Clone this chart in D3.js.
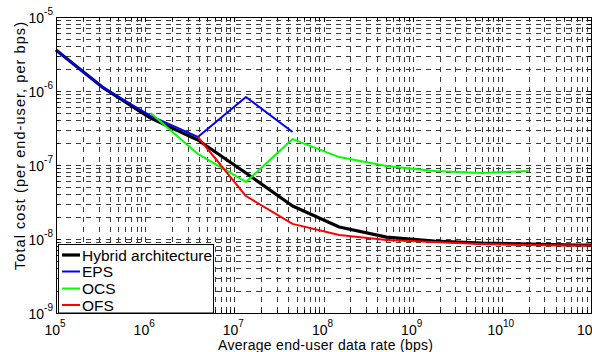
<!DOCTYPE html>
<html>
<head>
<meta charset="utf-8">
<script src="https://cdn.jsdelivr.net/npm/d3@7"></script>
<style>
  body { margin: 0; background: #fff; }
  svg { display: block; font-family: Arial, "Liberation Sans", sans-serif; }
</style>
</head>
<body>
<svg id="chart" width="592" height="352"></svg>
<script>
// Average end-user data rate (bps)
var rates = [1e5, 3.3e5, 1.15e6, 3.9e6, 1.35e7, 4.5e7, 1.5e8, 5.1e8, 1.75e9, 6e9, 2e10, 7e10, 1e11];

// Total cost per end-user per bps, one array per architecture (null = not computed)
var hybrid = [3.58e-6, 1.13e-6, 4.3e-7, 2.18e-7, 7.8e-8, 2.79e-8, 1.45e-8, 1.06e-8, 9.4e-9, 8.8e-9, 8.55e-9, 8.3e-9, 8.3e-9];
var eps    = [3.58e-6, 1.13e-6, 4.6e-7, 2.39e-7, 8.3e-7, 2.79e-7, null, null, null, null, null, null, null];
var ocs    = [null, null, 5.05e-7, 1.41e-7, 5.9e-8, 2.24e-7, 1.28e-7, 9.7e-8, 8.3e-8, 7.8e-8, 8.3e-8, null, null];
var ofs    = [null, null, null, 2.39e-7, 3.81e-8, 1.6e-8, 1.13e-8, 9.7e-9, 9.1e-9, 8.55e-9, 8.3e-9, 8.2e-9, 8.2e-9];

var seriesNames = ["Hybrid architecture", "EPS", "OCS", "OFS"];

// tick exponents
var xExps = [5, 6, 7, 8, 9, 10, 11];
var yExps = [-5, -6, -7, -8, -9];

(function() {

var L = 56, R = 591, T = 17, B = 313;

var svg = d3.select("#chart");

var x = d3.scaleLog().domain([1e5, 1e11]).range([L, R]);
var y = d3.scaleLog().domain([1e-9, 1e-5]).range([B, T]);

// minor + major grid values
var xGrid = [], yGrid = [];
for (var k = 5; k < 11; k++) for (var m = 1; m < 10; m++) xGrid.push(m * Math.pow(10, k));
xGrid.push(1e11);
for (var k = -9; k < -5; k++) for (var m = 1; m < 10; m++) yGrid.push(m * Math.pow(10, k));
yGrid.push(1e-5);

var isMajor = function(d) { return Math.abs(Math.log10(d) - Math.round(Math.log10(d))) < 1e-9; };

// dotted matlab grid, shows up as short dashes at this size
var grid = svg.append("g").attr("stroke", "#3c3c3c").attr("stroke-width", 1).attr("fill", "none");
grid.selectAll("line.h").data(yGrid).enter().append("line")
  .attr("x1", L).attr("x2", R)
  .attr("y1", function(d) { return Math.round(y(d)) + 0.5; })
  .attr("y2", function(d) { return Math.round(y(d)) + 0.5; })
  .attr("stroke-dasharray", "5,5");
grid.selectAll("line.v").data(xGrid).enter().append("line")
  .attr("y1", T).attr("y2", B)
  .attr("x1", function(d) { return Math.round(x(d)) + 0.5; })
  .attr("x2", function(d) { return Math.round(x(d)) + 0.5; })
  .attr("stroke-dasharray", "5,5");

// axis ticks (inside, all four sides)
var ticks = svg.append("g").attr("stroke", "#000").attr("stroke-width", 1);
xGrid.forEach(function(d) {
  var len = isMajor(d) ? 5 : 3;
  var px = Math.round(x(d)) + 0.5;
  ticks.append("line").attr("x1", px).attr("x2", px).attr("y1", B).attr("y2", B - len);
  ticks.append("line").attr("x1", px).attr("x2", px).attr("y1", T).attr("y2", T + len);
});
yGrid.forEach(function(d) {
  var len = isMajor(d) ? 5 : 3;
  var py = Math.round(y(d)) + 0.5;
  ticks.append("line").attr("y1", py).attr("y2", py).attr("x1", L).attr("x2", L + len);
  ticks.append("line").attr("y1", py).attr("y2", py).attr("x1", R).attr("x2", R - len);
});

// series
var line = d3.line()
  .defined(function(d) { return d[1] != null; })
  .x(function(d) { return x(d[0]); })
  .y(function(d) { return y(d[1]); });

var series = [
  { values: hybrid, color: "#000000", width: 3.2 },
  { values: eps,    color: "#0000ff", width: 2 },
  { values: ocs,    color: "#00ff00", width: 2 },
  { values: ofs,    color: "#ff0000", width: 2 }
];

svg.append("g").selectAll("path").data(series).enter().append("path")
  .attr("fill", "none")
  .attr("stroke", function(s) { return s.color; })
  .attr("stroke-width", function(s) { return s.width; })
  .attr("stroke-linejoin", "round")
  .attr("d", function(s) { return line(rates.map(function(r, i) { return [r, s.values[i]]; })); });

// box
svg.append("rect").attr("x", L + 0.5).attr("y", T + 0.5)
  .attr("width", R - L).attr("height", B - T)
  .attr("fill", "none").attr("stroke", "#000").attr("stroke-width", 1);

// tick labels
var xl = svg.append("g").attr("font-size", 14).attr("fill", "#000");
xExps.forEach(function(e) {
  var t = xl.append("text").attr("x", x(Math.pow(10, e)) - 1).attr("y", 335).attr("text-anchor", "middle");
  t.append("tspan").text("10");
  t.append("tspan").attr("dy", -8).attr("font-size", 10).text(e);
});
var yl = svg.append("g").attr("font-size", 14).attr("fill", "#000");
yExps.forEach(function(e) {
  var t = yl.append("text").attr("x", 53).attr("y", y(Math.pow(10, e)) + 6).attr("text-anchor", "end");
  t.append("tspan").text("10");
  t.append("tspan").attr("dy", -8).attr("font-size", 10).text("-" + Math.abs(e));
});

// axis titles
svg.append("text").attr("x", 325.5).attr("y", 350).attr("text-anchor", "middle")
  .attr("font-size", 14).attr("textLength", 215).attr("lengthAdjust", "spacing")
  .text("Average end-user data rate (bps)");
svg.append("text").attr("transform", "translate(25,146) rotate(-90)").attr("text-anchor", "middle")
  .attr("font-size", 14.5).attr("textLength", 248).attr("lengthAdjust", "spacing")
  .text("Total cost (per end-user, per bps)");

// legend
var lg = svg.append("g");
lg.append("rect").attr("x", 58.5).attr("y", 244.5).attr("width", 155).attr("height", 68.5)
  .attr("fill", "#fff").attr("stroke", "#000").attr("stroke-width", 1);
var baselines = [260.5, 277, 294, 310.5];
series.forEach(function(s, i) {
  lg.append("line").attr("x1", 62).attr("x2", 80)
    .attr("y1", baselines[i] - 5.5).attr("y2", baselines[i] - 5.5)
    .attr("stroke", s.color).attr("stroke-width", s.width);
  lg.append("text").attr("x", 82).attr("y", baselines[i]).attr("font-size", 15.5)
    .text(seriesNames[i]);
});

})();
</script>
</body>
</html>
